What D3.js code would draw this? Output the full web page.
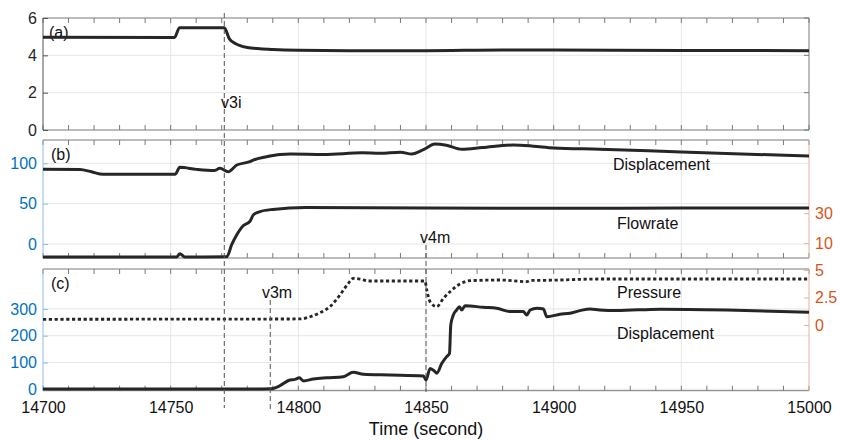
<!DOCTYPE html>
<html><head><meta charset="utf-8">
<script src="https://cdn.jsdelivr.net/npm/d3@7"></script>
<style>
body{margin:0;background:#fff}
svg{display:block}
text{font-family:"Liberation Sans",Arial,Helvetica,sans-serif}
</style>
</head><body>
<svg id="chart" width="842" height="441"></svg>
<script>
// ---------------- DATA ----------------
const timeDomain = [14700, 15000];
const xMajorTicks = [14700, 14750, 14800, 14850, 14900, 14950, 15000];
const xTickLabels = ["14700", "14750", "14800", "14850", "14900", "14950", "15000"];
const xMinorStep = 10;

// panel (a)
const aTime  = [14700, 14751.5, 14753.5, 14771, 14773, 14775.5, 14780, 14785, 14790, 14800, 14820, 14850, 14880, 14900, 14950, 15000];
const aValue = [4.97, 4.96, 5.48, 5.48, 4.88, 4.62, 4.42, 4.35, 4.31, 4.27, 4.25, 4.25, 4.29, 4.28, 4.26, 4.25];
const aTicks = [0, 2, 4, 6];

// panel (b) displacement (left axis)
const bDispTime  = [14700, 14714.5, 14719, 14723.5, 14751.7, 14753.6, 14760, 14767, 14769.3, 14772.5, 14775.9, 14781, 14782.4, 14787.6, 14792.8, 14797, 14810, 14825, 14832, 14840, 14844.4, 14849, 14853.5, 14858, 14864, 14872, 14884, 14892, 14900, 14918, 14950, 15000];
const bDispValue = [92.6, 92.5, 89.5, 86.4, 86.4, 95, 92.5, 91, 93.8, 89.6, 97.9, 102, 104, 108.2, 111, 111.5, 111, 113, 112.5, 113.8, 111.5, 117, 124, 122.5, 117.5, 119.5, 122.7, 121.3, 119, 117.5, 114, 109];
// panel (b) flowrate (right axis)
const bFlowTime  = [14700, 14752.4, 14753.6, 14755.6, 14772, 14773.9, 14775.9, 14778.5, 14781, 14782.4, 14785, 14790, 14803, 14850, 14900, 14950, 15000];
const bFlowValue = [0.7, 0.7, 2.9, 0.7, 0.9, 8.9, 15.5, 21.7, 24.4, 28.9, 31, 32.5, 33.8, 33.5, 33.3, 33.4, 33.5];
const bLeftTicks = [0, 50, 100];
const bRightTicks = [10, 30];

// panel (c) pressure (right axis)
const cPressTime  = [14700, 14800.7, 14804.6, 14808.5, 14812.4, 14816.3, 14819.6, 14821.5, 14824.2, 14827.4, 14849.6, 14850.3, 14851.6, 14854.2, 14856.8, 14859.4, 14863.3, 14867.3, 14879, 14889.5, 14891, 14894.7, 14918, 15000];
const cPressValue = [0.52, 0.55, 0.75, 1.12, 1.67, 2.73, 3.79, 4.24, 4.18, 4.0, 4.0, 3.18, 2.12, 1.67, 2.42, 3.03, 3.73, 4.03, 4.09, 3.94, 4.06, 4.06, 4.18, 4.18];
// panel (c) displacement (left axis)
const cDispTime  = [14700, 14780, 14789, 14792.8, 14796.7, 14798.7, 14800.4, 14802, 14805.9, 14811.1, 14817.6, 14821.5, 14825.5, 14835.9, 14849, 14850, 14851.6, 14853.5, 14854.2, 14856.2, 14858.1, 14859.2, 14859.7, 14860.7, 14862, 14863.1, 14864, 14865.3, 14872.5, 14877.7, 14882.9, 14888.1, 14889.5, 14890.8, 14893.4, 14896, 14897.3, 14902.5, 14906.4, 14910.3, 14914.3, 14918, 14924.7, 14941.7, 14967.8, 15000];
const cDispValue = [1, 1, 2, 13.5, 35, 37, 43, 31, 38.5, 43, 47, 63.5, 56, 53.4, 49.7, 35, 78, 66, 60, 97, 122, 134, 240, 277, 296, 308.5, 296, 312, 306, 302.5, 290, 290, 277.5, 296, 302.5, 300, 271, 280, 284, 293.6, 300, 296, 294, 299, 296, 288];
const cLeftTicks = [0, 100, 200, 300];
const cRightTicks = [0, 2.5, 5];
const cRightTickLabels = ["0", "2.5", "5"];

// events
const eventNames = ["v3i", "v3m", "v4m"];
const eventTimes = [14771, 14789, 14850];

const panelLabels = ["(a)", "(b)", "(c)"];
const seriesLabels = ["Displacement", "Flowrate", "Pressure", "Displacement"];
const xAxisTitle = "Time (second)";

// ---------------- DRAW ----------------
const svg = d3.select("#chart");
const BLUE = "#0072BD", ORANGE = "#D95319", INK = "#262626";
const BOX = "#7a7a7a", GRID = "#e6e6e6";
const FONT = 16;

const x = d3.scaleLinear().domain(timeDomain).range([43, 809]);

const panels = [
  {top: 18, bottom: 130, left: d3.scaleLinear().domain([0, 6]), leftTicks: aTicks, leftColor: INK, leftAxisColor: "#555", right: null},
  {top: 140, bottom: 258, left: d3.scaleLinear().domain([-17.3, 128.9]), leftTicks: bLeftTicks, leftColor: BLUE, leftAxisColor: "#8cbde0",
   right: d3.scaleLinear().domain([0, 78.9]), rightTicks: bRightTicks, rightLabels: bRightTicks.map(String)},
  {top: 269, bottom: 390.7, left: d3.scaleLinear().domain([-5.2, 449]), leftTicks: cLeftTicks, leftColor: BLUE, leftAxisColor: "#8cbde0",
   right: d3.scaleLinear().domain([-5.97, 5.09]), rightTicks: cRightTicks, rightLabels: cRightTickLabels}
];
panels.forEach(p => { p.left.range([p.bottom, p.top]); if (p.right) p.right.range([p.bottom, p.top]); });

const minorTicks = d3.range(timeDomain[0], timeDomain[1] + 0.1, xMinorStep);

panels.forEach((p, i) => {
  const g = svg.append("g");
  // grid
  xMajorTicks.slice(1, -1).forEach(t => {
    g.append("line").attr("x1", x(t)).attr("x2", x(t)).attr("y1", p.top).attr("y2", p.bottom)
      .attr("stroke", GRID).attr("stroke-width", 1);
  });
  p.leftTicks.forEach(v => {
    const yy = p.left(v);
    if (Math.abs(yy - p.top) < 1 || Math.abs(yy - p.bottom) < 1) return;
    g.append("line").attr("x1", x.range()[0]).attr("x2", x.range()[1]).attr("y1", yy).attr("y2", yy)
      .attr("stroke", GRID).attr("stroke-width", 1);
  });
  // x minor/major ticks top & bottom (inward)
  minorTicks.forEach(t => {
    g.append("line").attr("x1", x(t)).attr("x2", x(t)).attr("y1", p.top).attr("y2", p.top + 5).attr("stroke", BOX);
    g.append("line").attr("x1", x(t)).attr("x2", x(t)).attr("y1", p.bottom).attr("y2", p.bottom - 5).attr("stroke", BOX);
  });
  // top & bottom box lines
  g.append("line").attr("x1", 43).attr("x2", 809).attr("y1", p.top).attr("y2", p.top).attr("stroke", BOX);
  g.append("line").attr("x1", 43).attr("x2", 809).attr("y1", p.bottom).attr("y2", p.bottom).attr("stroke", BOX);

  // left axis
  const la = g.append("g").attr("transform", `translate(43,0)`)
    .call(d3.axisLeft(p.left).tickValues(p.leftTicks).tickSize(-5).tickPadding(6).tickFormat(d3.format("d")));
  la.select(".domain").attr("stroke", p.leftAxisColor).attr("d", `M0,${p.top}V${p.bottom}`);
  la.selectAll(".tick line").attr("stroke", p.leftAxisColor);
  la.selectAll(".tick text").attr("fill", p.leftColor).attr("font-size", FONT).attr("font-family", null);

  // right axis
  if (p.right) {
    const ra = g.append("g").attr("transform", `translate(809,0)`)
      .call(d3.axisRight(p.right).tickValues(p.rightTicks).tickSize(-5).tickPadding(6)
        .tickFormat((d, k) => p.rightLabels[k]));
    ra.select(".domain").attr("stroke", "#eab19a").attr("d", `M0,${p.top}V${p.bottom}`);
    ra.selectAll(".tick line").attr("stroke", "#eab19a");
    ra.selectAll(".tick text").attr("fill", ORANGE).attr("font-size", FONT).attr("font-family", null);
  } else {
    g.append("line").attr("x1", 809).attr("x2", 809).attr("y1", p.top).attr("y2", p.bottom).attr("stroke", BOX);
    p.leftTicks.forEach(v => {
      g.append("line").attr("x1", 809).attr("x2", 804).attr("y1", p.left(v)).attr("y2", p.left(v)).attr("stroke", BOX);
    });
  }

  // panel label
  const labelPos = [[49, 37.5], [51, 160], [51, 289]];
  g.append("text").attr("x", labelPos[i][0]).attr("y", labelPos[i][1]).attr("font-size", FONT).attr("fill", "#111").text(panelLabels[i]);
});

// bottom tick labels
const bx = svg.append("g").attr("transform", `translate(0,${panels[2].bottom})`)
  .call(d3.axisBottom(x).tickValues(xMajorTicks).tickSize(0).tickPadding(11).tickFormat((d, k) => xTickLabels[k]));
bx.select(".domain").remove();
bx.selectAll(".tick text").attr("fill", "#111").attr("font-size", FONT).attr("font-family", null);

svg.append("text").attr("x", 426).attr("y", 435).attr("text-anchor", "middle").attr("font-size", 18).attr("fill", "#111").text(xAxisTitle);

// series lines
const zip = (ts, vs) => ts.map((t, k) => [t, vs[k]]);
function drawLine(data, yScale, dashed) {
  const line = d3.line().x(d => x(d[0])).y(d => yScale(d[1])).curve(d3.curveMonotoneX);
  svg.append("path").attr("d", line(data)).attr("fill", "none").attr("stroke", INK)
    .attr("stroke-width", dashed ? 2.8 : 3).attr("stroke-linejoin", "round")
    .attr("stroke-dasharray", dashed ? "3.2,2.6" : null);
}
drawLine(zip(aTime, aValue), panels[0].left, false);
drawLine(zip(bDispTime, bDispValue), panels[1].left, false);
drawLine(zip(bFlowTime, bFlowValue), panels[1].right, false);
drawLine(zip(cPressTime, cPressValue), panels[2].right, true);
drawLine(zip(cDispTime, cDispValue), panels[2].left, false);

// event markers
const eventSpans = [[13, 408], [300, 410], [245, 392]];
const eventLabelOffsets = [[-3.3, 107.5], [-8.3, 298], [-6, 243]];
eventTimes.forEach((t, k) => {
  svg.append("line").attr("x1", x(t)).attr("x2", x(t)).attr("y1", eventSpans[k][0]).attr("y2", eventSpans[k][1])
    .attr("stroke", "#555").attr("stroke-width", 1).attr("stroke-dasharray", "5,3");
  svg.append("text").attr("x", x(t) + eventLabelOffsets[k][0]).attr("y", eventLabelOffsets[k][1])
    .attr("font-size", FONT).attr("fill", "#111").text(eventNames[k]);
});

// series text labels
const seriesLabelPos = [[613, 169.5], [617, 229], [617, 298], [617, 339]];
seriesLabels.forEach((s, k) => {
  svg.append("text").attr("x", seriesLabelPos[k][0]).attr("y", seriesLabelPos[k][1])
    .attr("font-size", FONT).attr("fill", "#111").text(s);
});
</script>
</body></html>
